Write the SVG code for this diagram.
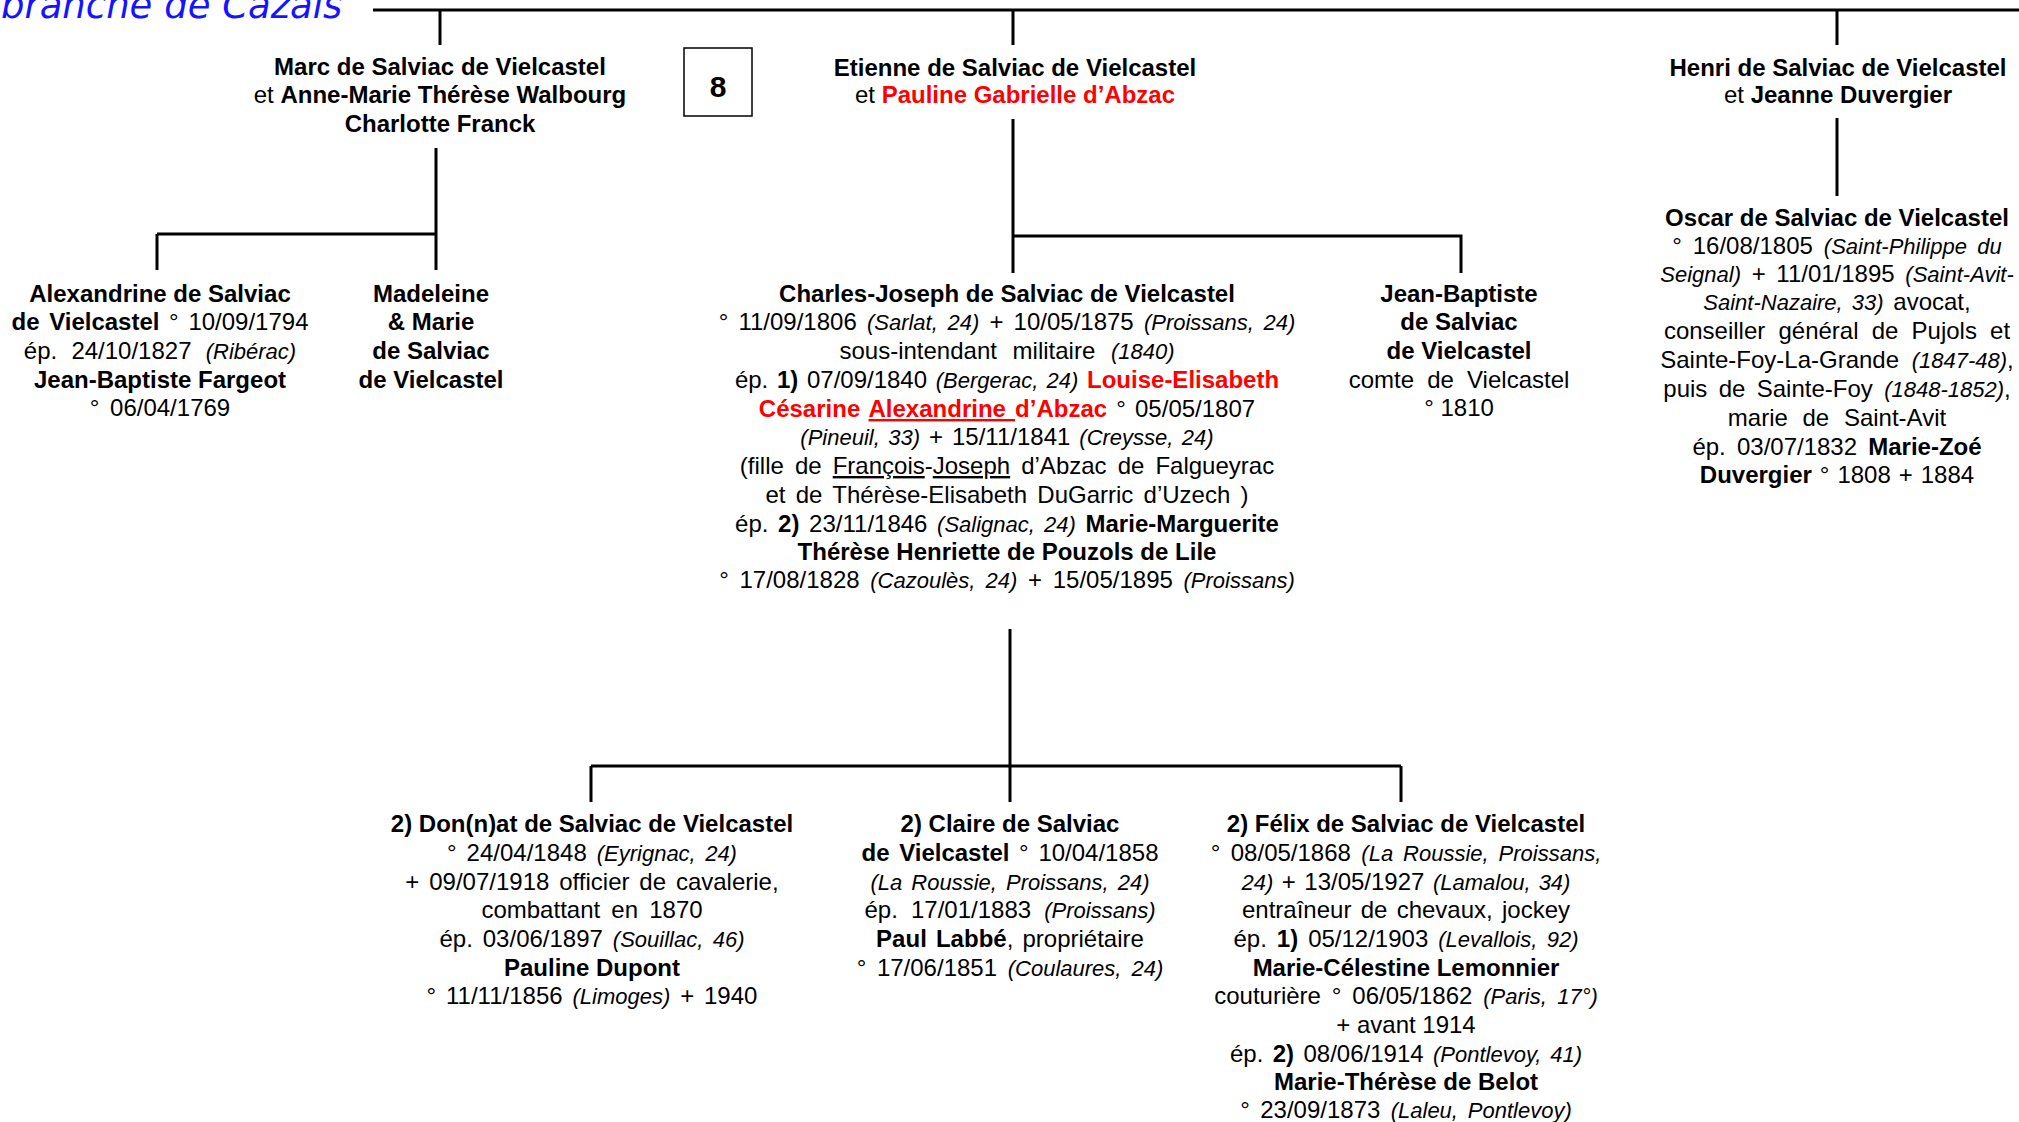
<svg xmlns="http://www.w3.org/2000/svg" width="2019" height="1122" viewBox="0 0 2019 1122">
<style>
text{font-family:"Liberation Sans",Arial,sans-serif;font-size:24px;fill:#000;text-anchor:middle}
.b{font-weight:bold}
.i{font-style:italic;font-size:22px}
.r{fill:#ff0000;font-weight:bold}
.u{text-decoration:underline}
.title{font-family:"DejaVu Sans",sans-serif;font-style:italic;font-size:37px;fill:#1414ff;text-anchor:start}
.ln{stroke:#000;stroke-width:3;fill:none}
</style>
<rect width="2019" height="1122" fill="#fff"/>
<text class="title" x="1" y="18">branche de Cazals</text>

<g id="connectors">
<path class="ln" d="M373 10 H2019"/>
<path class="ln" d="M440 10 V45 M1013 10 V45 M1837 10 V45"/>
<path class="ln" d="M436 148 V270 M157 234 H437 M157 234 V270"/>
<path class="ln" d="M1013 119 V273 M1013 236 H1461 V273"/>
<path class="ln" d="M1837 118 V196"/>
<path class="ln" d="M1010 629 V802 M591 766 H1401 M591 766 V802 M1401 766 V802"/>
</g>

<g id="box8">
<rect x="684" y="48" width="68" height="68" fill="#fff" stroke="#000" stroke-width="1.5"/>
<text class="b" x="718" y="97" style="font-size:30px">8</text>
</g>

<g id="marc">
<text class="b" x="440" y="75">Marc de Salviac de Vielcastel</text>
<text x="440" y="103">et <tspan class="b">Anne-Marie Thérèse Walbourg</tspan></text>
<text class="b" x="440" y="132">Charlotte Franck</text>
</g>

<g id="etienne">
<text class="b" x="1015" y="76">Etienne de Salviac de Vielcastel</text>
<text x="1015" y="103">et <tspan class="r">Pauline Gabrielle d’Abzac</tspan></text>
</g>

<g id="henri">
<text class="b" x="1838" y="76">Henri de Salviac de Vielcastel</text>
<text x="1838" y="103">et <tspan class="b">Jeanne Duvergier</tspan></text>
</g>

<g id="alexandrine">
<text class="b" x="160" y="302">Alexandrine de Salviac</text>
<text x="160" y="330" style="word-spacing:3px"><tspan class="b">de Vielcastel</tspan> ° 10/09/1794</text>
<text x="160" y="359" style="word-spacing:7.5px">ép. 24/10/1827 <tspan class="i">(Ribérac)</tspan></text>
<text class="b" x="160" y="388">Jean-Baptiste Fargeot</text>
<text x="160" y="416" style="word-spacing:4px">° 06/04/1769</text>
</g>

<g id="madeleine">
<text class="b" x="431" y="302">Madeleine</text>
<text class="b" x="431" y="330">&amp; Marie</text>
<text class="b" x="431" y="359">de Salviac</text>
<text class="b" x="431" y="388">de Vielcastel</text>
</g>

<g id="charles">
<text class="b" x="1007" y="302">Charles-Joseph de Salviac de Vielcastel</text>
<text x="1007" y="330" style="word-spacing:3.5px">° 11/09/1806 <tspan class="i">(Sarlat, 24)</tspan> + 10/05/1875 <tspan class="i">(Proissans, 24)</tspan></text>
<text x="1007" y="359" style="word-spacing:9px">sous-intendant militaire <tspan class="i">(1840)</tspan></text>
<text x="1007" y="388" style="word-spacing:2px">ép. <tspan class="b">1)</tspan> 07/09/1840 <tspan class="i">(Bergerac, 24)</tspan> <tspan class="r">Louise-Elisabeth</tspan></text>
<text x="1007" y="417" style="word-spacing:2.5px"><tspan class="r">Césarine </tspan><tspan class="r u">Alexandrine </tspan><tspan class="r">d’Abzac</tspan> ° 05/05/1807</text>
<text x="1007" y="445" style="word-spacing:2.3px"><tspan class="i">(Pineuil, 33)</tspan> + 15/11/1841 <tspan class="i">(Creysse, 24)</tspan></text>
<text x="1007" y="474" style="word-spacing:4.4px">(fille de <tspan class="u">François</tspan>-<tspan class="u">Joseph</tspan> d’Abzac de Falgueyrac</text>
<text x="1007" y="503" style="word-spacing:3.6px">et de Thérèse-Elisabeth DuGarric d’Uzech )</text>
<text x="1007" y="532" style="word-spacing:3px">ép. <tspan class="b">2)</tspan> 23/11/1846 <tspan class="i">(Salignac, 24)</tspan> <tspan class="b">Marie-Marguerite</tspan></text>
<text class="b" x="1007" y="560">Thérèse Henriette de Pouzols de Lile</text>
<text x="1007" y="588" style="word-spacing:4px">° 17/08/1828 <tspan class="i">(Cazoulès, 24)</tspan> + 15/05/1895 <tspan class="i">(Proissans)</tspan></text>
</g>

<g id="jeanbaptiste">
<text class="b" x="1459" y="302">Jean-Baptiste</text>
<text class="b" x="1459" y="330">de Salviac</text>
<text class="b" x="1459" y="359">de Vielcastel</text>
<text x="1459" y="388" style="word-spacing:6.5px">comte de Vielcastel</text>
<text x="1459" y="416">° 1810</text>
</g>

<g id="oscar">
<text class="b" x="1837" y="226">Oscar de Salviac de Vielcastel</text>
<text x="1837" y="254" style="word-spacing:4.3px">° 16/08/1805 <tspan class="i">(Saint-Philippe du</tspan></text>
<text x="1837" y="282" style="word-spacing:4px"><tspan class="i">Seignal)</tspan> + 11/01/1895 <tspan class="i">(Saint-Avit-</tspan></text>
<text x="1837" y="310" style="word-spacing:3px"><tspan class="i">Saint-Nazaire, 33)</tspan> avocat,</text>
<text x="1837" y="339" style="word-spacing:6.5px">conseiller général de Pujols et</text>
<text x="1837" y="368" style="word-spacing:6px">Sainte-Foy-La-Grande <tspan class="i">(1847-48)</tspan>,</text>
<text x="1837" y="397" style="word-spacing:4.7px">puis de Sainte-Foy <tspan class="i">(1848-1852)</tspan>,</text>
<text x="1837" y="426" style="word-spacing:8px">marie de Saint-Avit</text>
<text x="1837" y="455" style="word-spacing:4.5px">ép. 03/07/1832 <tspan class="b">Marie-Zoé</tspan></text>
<text x="1837" y="483" style="word-spacing:1.3px"><tspan class="b">Duvergier</tspan> ° 1808 + 1884</text>
</g>

<g id="donnat">
<text class="b" x="592" y="832">2) Don(n)at de Salviac de Vielcastel</text>
<text x="592" y="861" style="word-spacing:3.3px">° 24/04/1848 <tspan class="i">(Eyrignac, 24)</tspan></text>
<text x="592" y="890" style="word-spacing:3.2px">+ 09/07/1918 officier de cavalerie,</text>
<text x="592" y="918" style="word-spacing:4.5px">combattant en 1870</text>
<text x="592" y="947" style="word-spacing:3.3px">ép. 03/06/1897 <tspan class="i">(Souillac, 46)</tspan></text>
<text class="b" x="592" y="976">Pauline Dupont</text>
<text x="592" y="1004" style="word-spacing:3.2px">° 11/11/1856 <tspan class="i">(Limoges)</tspan> + 1940</text>
</g>

<g id="claire">
<text class="b" x="1010" y="832">2) Claire de Salviac</text>
<text x="1010" y="861" style="word-spacing:3px"><tspan class="b">de Vielcastel</tspan> ° 10/04/1858</text>
<text x="1010" y="890" style="word-spacing:3px"><tspan class="i">(La Roussie, Proissans, 24)</tspan></text>
<text x="1010" y="918" style="word-spacing:6.5px">ép. 17/01/1883 <tspan class="i">(Proissans)</tspan></text>
<text x="1010" y="947" style="word-spacing:2.5px"><tspan class="b">Paul Labbé</tspan>, propriétaire</text>
<text x="1010" y="976" style="word-spacing:4px">° 17/06/1851 <tspan class="i">(Coulaures, 24)</tspan></text>
</g>

<g id="felix">
<text class="b" x="1406" y="832">2) Félix de Salviac de Vielcastel</text>
<text x="1406" y="861" style="word-spacing:3.8px">° 08/05/1868 <tspan class="i">(La Roussie, Proissans,</tspan></text>
<text x="1406" y="890" style="word-spacing:1.8px"><tspan class="i">24)</tspan> + 13/05/1927 <tspan class="i">(Lamalou, 34)</tspan></text>
<text x="1406" y="918" style="word-spacing:2.6px">entraîneur de chevaux, jockey</text>
<text x="1406" y="947" style="word-spacing:3.3px">ép. <tspan class="b">1)</tspan> 05/12/1903 <tspan class="i">(Levallois, 92)</tspan></text>
<text class="b" x="1406" y="976">Marie-Célestine Lemonnier</text>
<text x="1406" y="1004" style="word-spacing:4.2px">couturière ° 06/05/1862 <tspan class="i">(Paris, 17°)</tspan></text>
<text x="1406" y="1033">+ avant 1914</text>
<text x="1406" y="1062" style="word-spacing:2.7px">ép. <tspan class="b">2)</tspan> 08/06/1914 <tspan class="i">(Pontlevoy, 41)</tspan></text>
<text class="b" x="1406" y="1090">Marie-Thérèse de Belot</text>
<text x="1406" y="1118" style="word-spacing:3.7px">° 23/09/1873 <tspan class="i">(Laleu, Pontlevoy)</tspan></text>
</g>
</svg>
